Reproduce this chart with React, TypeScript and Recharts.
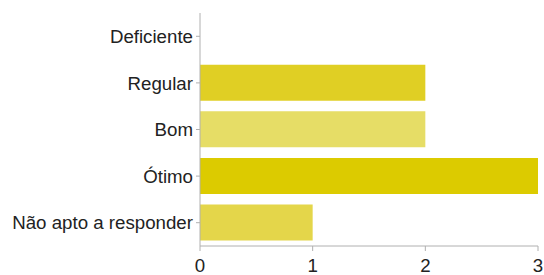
import { Bar, BarChart, Cell, XAxis, YAxis } from "recharts";

const categorias = ["Deficiente", "Regular", "Bom", "Ótimo", "Não apto a responder"];
const respostas = [0, 2, 2, 3, 1];
const cores = ["#e0cf24", "#e0cf24", "#e6dd66", "#dccb00", "#e4d64a"];
const xTicks = [0, 1, 2, 3];

const data = categorias.map((nome, i) => ({ nome, valor: respostas[i] }));

const tickStyle = {
  fontSize: 18.7,
  fill: "#222",
  fontFamily: "'Liberation Sans', Arial, sans-serif",
};

export default function App() {
  return (
    <div style={{ position: "absolute", left: 0, top: 0, background: "#fff" }}>
      <BarChart
        width={544}
        height={275}
        data={data}
        layout="vertical"
        margin={{ top: 13, right: 6, left: 0, bottom: 0 }}
        barCategoryGap="11%"
      >
        <XAxis
          type="number"
          domain={[0, 3]}
          ticks={xTicks}
          height={29}
          tick={tickStyle}
          tickSize={5}
          tickMargin={8}
          stroke="#b0b0b0"
          tickLine={{ stroke: "#b0b0b0" }}
        />
        <YAxis
          type="category"
          dataKey="nome"
          width={200}
          tick={tickStyle}
          tickSize={4}
          tickMargin={3}
          stroke="#b0b0b0"
          tickLine={{ stroke: "#b0b0b0" }}
          interval={0}
        />
        <Bar dataKey="valor" isAnimationActive={false}>
          {data.map((d, i) => (
            <Cell key={d.nome} fill={cores[i]} />
          ))}
        </Bar>
      </BarChart>
    </div>
  );
}
